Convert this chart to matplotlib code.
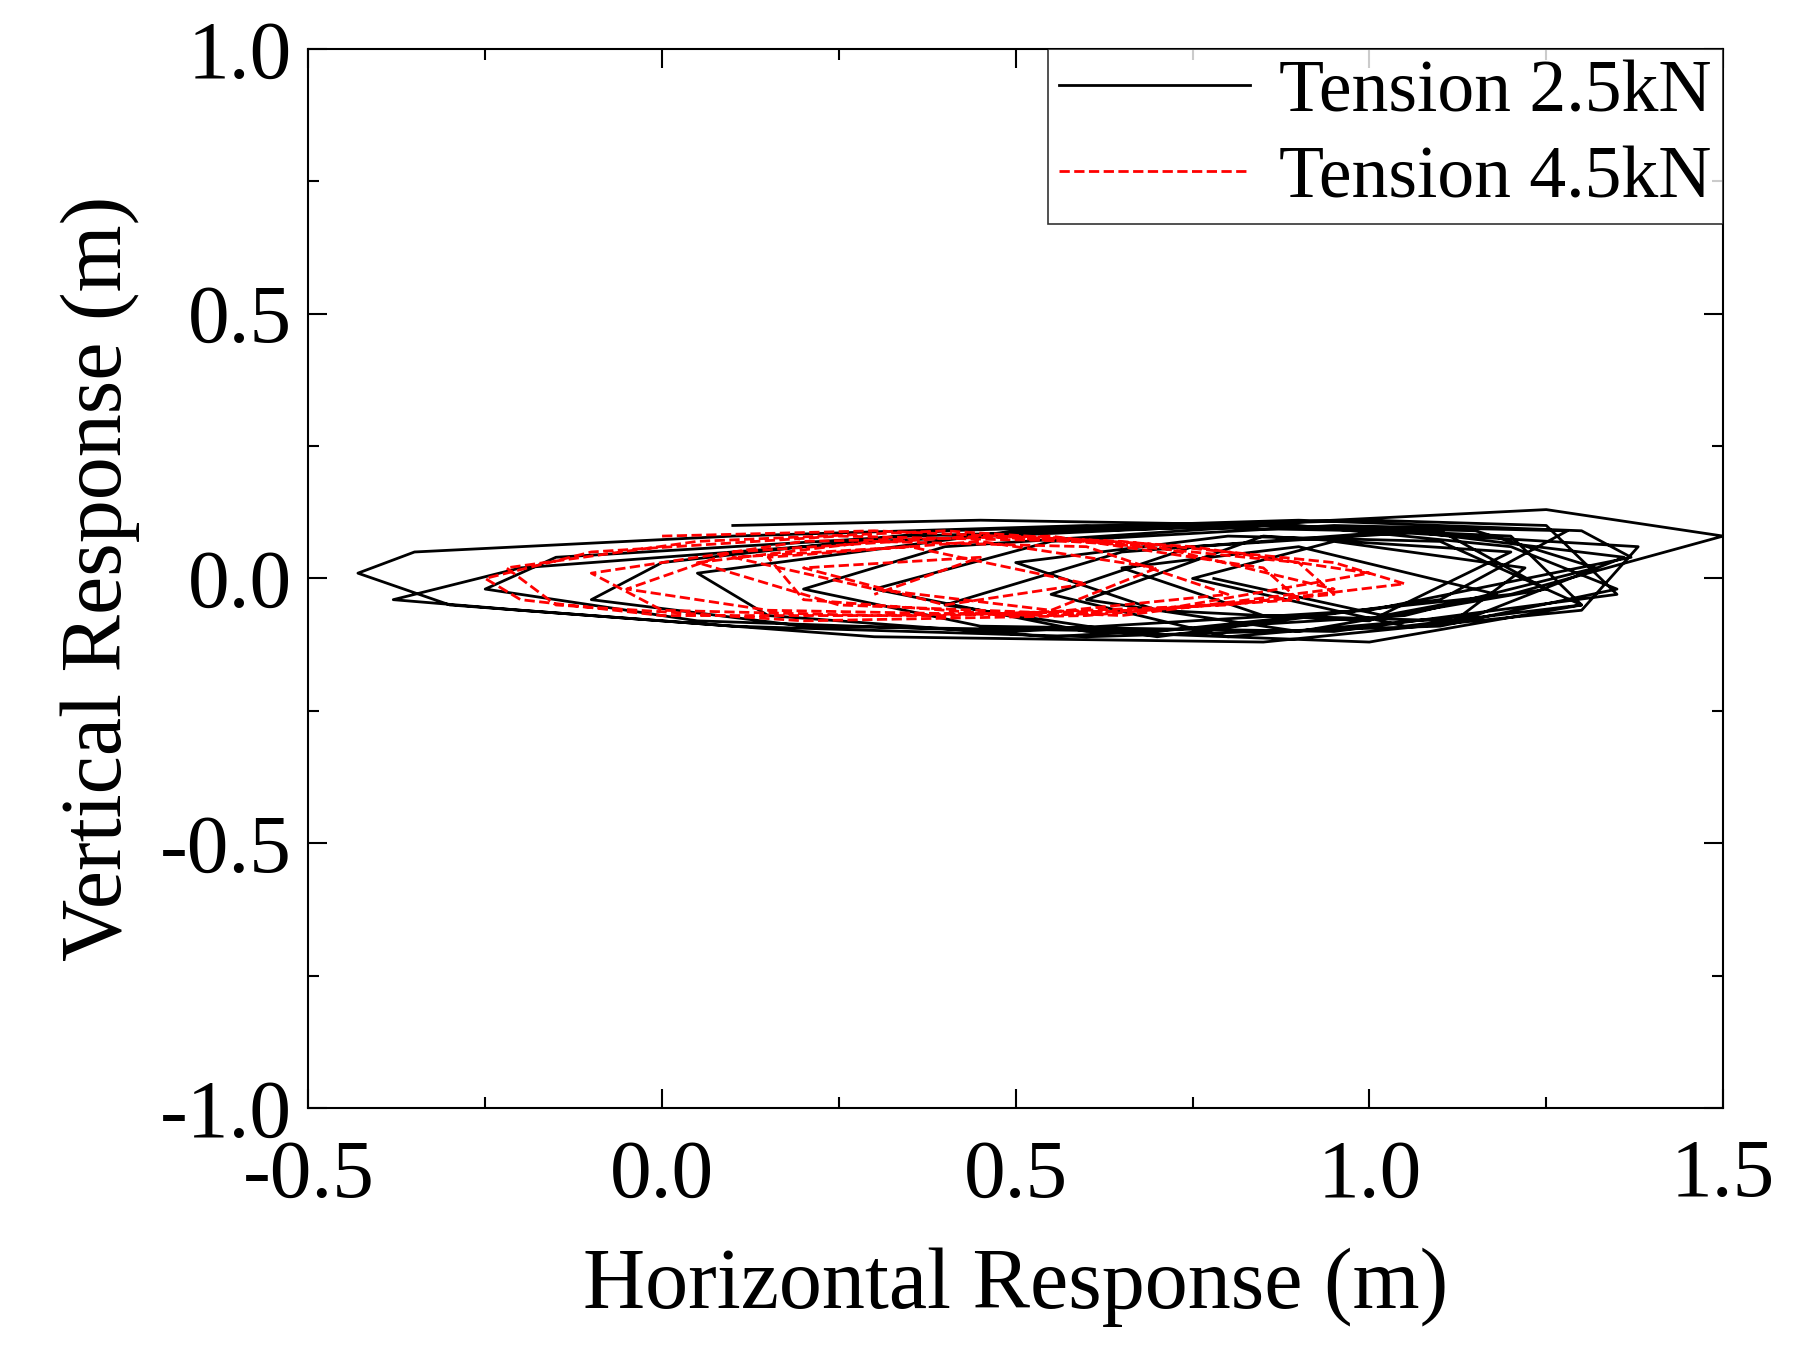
import matplotlib
matplotlib.use("Agg")
import matplotlib.pyplot as plt

plt.rcParams["font.family"] = "Liberation Serif"
plt.rcParams["axes.unicode_minus"] = False

# Hand-read trajectory points (horizontal, vertical), metres
black_x = [0.10, 0.45, 0.90, 1.20, 1.35, 1.10, 0.60, 0.10, -0.30, -0.43, -0.35, 0.10, 0.60, 1.00, 1.38,
           1.30, 0.85, 0.30, -0.20, -0.38, -0.20, 0.30, 0.80, 1.25, 1.50, 1.20, 0.70, 0.20, -0.10, 0.00,
           0.40, 0.90, 1.30, 1.37, 1.00, 0.50, 0.05, -0.25, -0.15, 0.35, 0.85, 1.15, 1.32, 1.05, 0.55,
           0.15, 0.05, 0.50, 1.00, 1.25, 1.35, 0.95, 0.45, 0.20, 0.40, 0.85, 1.20, 1.30, 1.00, 0.60,
           0.30, 0.55, 0.95, 1.28, 1.10, 0.70, 0.40, 0.65, 1.05, 1.36, 1.15, 0.80, 0.55, 0.75, 1.10,
           1.25, 0.90, 0.60, 0.85, 1.20, 1.00, 0.70, 0.50, 0.80, 1.10, 1.30, 1.05, 0.75, 0.95, 1.22,
           1.12, 0.85, 0.65, 0.90, 1.18, 1.02, 0.78]
black_y = [0.10, 0.11, 0.10, 0.06, -0.02, -0.09, -0.11, -0.09, -0.05, 0.01, 0.05, 0.08, 0.10, 0.09, 0.06,
           -0.06, -0.12, -0.11, -0.06, -0.04, 0.02, 0.07, 0.10, 0.13, 0.08, -0.03, -0.10, -0.09, -0.04, 0.03,
           0.09, 0.11, 0.09, 0.04, -0.06, -0.10, -0.08, -0.02, 0.04, 0.08, 0.10, 0.09, 0.02, -0.07, -0.11,
           -0.07, 0.01, 0.09, 0.11, 0.10, -0.03, -0.10, -0.09, -0.02, 0.06, 0.10, 0.08, -0.05, -0.12, -0.10,
           -0.02, 0.07, 0.10, 0.09, -0.04, -0.11, -0.05, 0.05, 0.09, 0.04, -0.07, -0.11, -0.03, 0.06, 0.09,
           -0.02, -0.10, -0.04, 0.08, 0.05, -0.08, -0.06, 0.03, 0.08, 0.07, -0.05, -0.09, 0.00, 0.07, 0.02,
           -0.08, -0.07, 0.02, 0.06, -0.03, -0.07, 0.00]
red_x = [0.00, 0.30, 0.65, 0.95, 1.05, 0.80, 0.40, 0.00, -0.20, -0.25, -0.10, 0.25, 0.60, 0.90, 0.95,
         0.60, 0.20, -0.15, -0.22, 0.05, 0.40, 0.75, 1.00, 0.70, 0.30, 0.00, -0.10, 0.20, 0.55, 0.85,
         0.90, 0.55, 0.15, -0.05, 0.10, 0.45, 0.70, 0.95, 0.65, 0.25, 0.05, 0.30, 0.60, 0.80, 0.50,
         0.20, 0.15, 0.45, 0.70, 0.55, 0.30, 0.10, 0.35, 0.60, 0.40, 0.20, 0.45, 0.30]
red_y = [0.08, 0.09, 0.07, 0.03, -0.01, -0.05, -0.07, -0.07, -0.04, 0.00, 0.05, 0.08, 0.07, 0.03, -0.03,
         -0.07, -0.08, -0.05, 0.02, 0.07, 0.09, 0.06, 0.01, -0.06, -0.07, -0.06, 0.01, 0.07, 0.08, 0.02,
         -0.04, -0.07, -0.06, -0.02, 0.05, 0.08, 0.06, -0.02, -0.07, -0.05, 0.03, 0.07, 0.06, -0.03, -0.07,
         -0.04, 0.04, 0.07, 0.02, -0.06, -0.02, 0.04, 0.06, -0.01, -0.05, 0.02, 0.04, -0.03]

fig = plt.figure(figsize=(17.93, 13.5), dpi=100)
ax = fig.add_axes([0.172, 0.179, 0.789, 0.785])
ax.plot(black_x, black_y, color="black", lw=2.0, label="Tension 2.5kN")
ax.plot(red_x, red_y, color="red", lw=2.0, ls="--", label="Tension 4.5kN")
ax.set_xlim(-0.5, 1.5)
ax.set_ylim(-1.0, 1.0)
ax.set_xticks([-0.5, 0.0, 0.5, 1.0, 1.5])
ax.set_yticks([-1.0, -0.5, 0.0, 0.5, 1.0])
ax.set_xticks([-0.25, 0.25, 0.75, 1.25], minor=True)
ax.set_yticks([-0.75, -0.25, 0.25, 0.75], minor=True)
ax.tick_params(which="both", direction="in", top=True, right=True, width=1.5)
ax.tick_params(which="major", length=14, labelsize=60)
ax.tick_params(axis="x", which="major", pad=22)
ax.tick_params(axis="y", which="major", pad=12)
ax.tick_params(which="minor", length=8)
for s in ax.spines.values():
    s.set_linewidth(1.5)
ax.set_xlabel("Horizontal Response (m)", fontsize=62, labelpad=24)
ax.set_ylabel("Vertical Response (m)", fontsize=62, labelpad=14)
leg = ax.legend(loc="upper right", fontsize=53, frameon=True, fancybox=False,
                edgecolor="black", handlelength=2.6, borderaxespad=0.0, borderpad=0.15,
                labelspacing=0.25, handletextpad=0.4)
leg.get_frame().set_linewidth(1.2)
fig.savefig("out.png", dpi=100)
